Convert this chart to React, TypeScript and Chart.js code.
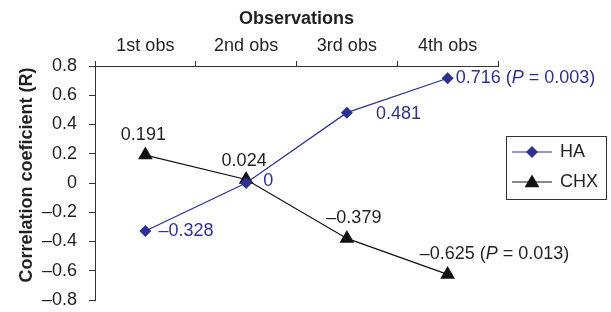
import React, { useEffect, useRef } from "react";
import { Chart, registerables } from "chart.js";

Chart.register(...registerables);

// ---- data ----
const categories = ["1st obs", "2nd obs", "3rd obs", "4th obs"];
const haValues = [-0.328, 0, 0.481, 0.716];
const chxValues = [0.191, 0.024, -0.379, -0.625];
const haLabels = ["–0.328", "0", "0.481", "0.716"];
const chxLabels = ["0.191", "0.024", "–0.379", "–0.625"];
const haPValues = [null, null, null, "0.003"];
const chxPValues = [null, null, null, "0.013"];
const seriesNames = ["HA", "CHX"];
const yMin = -0.8;
const yMax = 0.8;
const yStep = 0.2;
const xTitle = "Observations";
const yTitle = "Correlation coeficient (R)";

// ---- style ----
const HA_COLOR = "#2e3192";
const CHX_COLOR = "#111111";
const TEXT = "#231f20";
const FONT = "'Liberation Sans', Arial, Helvetica, sans-serif";
const LABEL_SIZE = 18;

// label placement: [dx, dy, align]
const haLabelPos: [number, number, string][] = [
  [13, 0, "left"],
  [17, -2, "left"],
  [29, 1, "left"],
  [8, 0, "left"],
];
const chxLabelPos: [number, number, string][] = [
  [-2, -20, "center"],
  [-2, -18, "center"],
  [7, -20, "center"],
  [-28, -20, "left"],
];

function drawRich(ctx: CanvasRenderingContext2D, x: number, y: number, align: string, parts: { t: string; i?: boolean }[], color: string) {
  ctx.save();
  ctx.fillStyle = color;
  ctx.textBaseline = "middle";
  ctx.textAlign = "left";
  const widths = parts.map((p) => {
    ctx.font = `${p.i ? "italic " : ""}${LABEL_SIZE}px ${FONT}`;
    return ctx.measureText(p.t).width;
  });
  const total = widths.reduce((a, b) => a + b, 0);
  let cx = align === "center" ? x - total / 2 : align === "right" ? x - total : x;
  parts.forEach((p, k) => {
    ctx.font = `${p.i ? "italic " : ""}${LABEL_SIZE}px ${FONT}`;
    ctx.fillText(p.t, cx, y);
    cx += widths[k];
  });
  ctx.restore();
}

function labelParts(label: string, p: string | null) {
  if (!p) return [{ t: label }];
  return [{ t: label + " (" }, { t: "P", i: true }, { t: " = " + p + ")" }];
}

const labelsPlugin = {
  id: "valueLabels",
  afterDatasetsDraw(chart: any) {
    const ctx = chart.ctx as CanvasRenderingContext2D;
    const sets = [
      { labels: haLabels, ps: haPValues, pos: haLabelPos, color: HA_COLOR },
      { labels: chxLabels, ps: chxPValues, pos: chxLabelPos, color: TEXT },
    ];
    sets.forEach((s, di) => {
      const meta = chart.getDatasetMeta(di);
      meta.data.forEach((pt: any, i: number) => {
        const [dx, dy, al] = s.pos[i];
        drawRich(ctx, pt.x + dx, pt.y + dy, al, labelParts(s.labels[i], s.ps[i]), s.color);
      });
    });
  },
};

function drawDiamond(ctx: CanvasRenderingContext2D, x: number, y: number, r: number, color: string) {
  ctx.beginPath();
  ctx.moveTo(x, y - r);
  ctx.lineTo(x + r, y);
  ctx.lineTo(x, y + r);
  ctx.lineTo(x - r, y);
  ctx.closePath();
  ctx.fillStyle = color;
  ctx.fill();
}

function drawTriangle(ctx: CanvasRenderingContext2D, x: number, y: number, r: number, color: string) {
  ctx.beginPath();
  ctx.moveTo(x, y - r);
  ctx.lineTo(x + r * Math.cos(Math.PI / 6), y + r / 2);
  ctx.lineTo(x - r * Math.cos(Math.PI / 6), y + r / 2);
  ctx.closePath();
  ctx.fillStyle = color;
  ctx.fill();
}

const legendPlugin = {
  id: "boxLegend",
  afterDraw(chart: any) {
    const ctx = chart.ctx as CanvasRenderingContext2D;
    const a = chart.chartArea;
    // y axis title
    ctx.save();
    ctx.translate(27, (a.top + a.bottom) / 2 - 8);
    ctx.rotate(-Math.PI / 2);
    ctx.fillStyle = TEXT;
    ctx.font = `bold ${LABEL_SIZE}px ${FONT}`;
    ctx.textAlign = "center";
    ctx.textBaseline = "middle";
    ctx.fillText(yTitle, 0, 0);
    ctx.restore();

    const lx = a.right + 8;
    const ly = a.top + 70;
    const w = 100;
    const h = 63;
    ctx.save();
    ctx.strokeStyle = "#333";
    ctx.lineWidth = 1;
    ctx.strokeRect(lx + 0.5, ly + 0.5, w, h);
    const rows = [ly + 16, ly + 46];
    const colors = [HA_COLOR, CHX_COLOR];
    rows.forEach((ry, i) => {
      ctx.beginPath();
      ctx.strokeStyle = colors[i];
      ctx.lineWidth = 1.2;
      ctx.moveTo(lx + 6, ry);
      ctx.lineTo(lx + 46, ry);
      ctx.stroke();
      if (i === 0) drawDiamond(ctx, lx + 26, ry, 6, colors[i]);
      else drawTriangle(ctx, lx + 26, ry + 1, 8.5, colors[i]);
      ctx.fillStyle = TEXT;
      ctx.font = `${LABEL_SIZE}px ${FONT}`;
      ctx.textBaseline = "middle";
      ctx.textAlign = "left";
      ctx.fillText(seriesNames[i], lx + 54, ry);
    });
    ctx.restore();
  },
};

function fmt(v: number) {
  if (Math.abs(v) < 1e-9) return "0";
  const s = Math.abs(v).toFixed(1);
  return v < 0 ? "–" + s : s;
}

export default function App() {
  const ref = useRef<HTMLCanvasElement | null>(null);
  useEffect(() => {
    if (!ref.current) return;
    const chart = new Chart(ref.current, {
      type: "line",
      data: {
        labels: categories,
        datasets: [
          {
            label: seriesNames[0],
            data: haValues,
            borderColor: HA_COLOR,
            backgroundColor: HA_COLOR,
            borderWidth: 1.2,
            pointStyle: "rectRot",
            pointRadius: 6,
            pointBorderWidth: 0,
            tension: 0,
          },
          {
            label: seriesNames[1],
            data: chxValues,
            borderColor: CHX_COLOR,
            backgroundColor: CHX_COLOR,
            borderWidth: 1.2,
            pointStyle: "triangle",
            pointRadius: 8.5,
            pointBorderWidth: 0,
            tension: 0,
          },
        ],
      },
      options: {
        responsive: false,
        animation: false,
        devicePixelRatio: 1,
        layout: { padding: { left: 0, right: 113, top: 0, bottom: 12 } },
        plugins: { legend: { display: false }, tooltip: { enabled: false } },
        scales: {
          x: {
            type: "category",
            position: "top",
            offset: true,
            afterFit: (s: any) => {
              s.height = 66;
              s.paddingLeft = 0;
              s.paddingRight = 0;
            },
            grid: { offset: true, drawOnChartArea: false, drawTicks: true, tickLength: 5, color: "#333" },
            border: { display: true, color: "#333", width: 1 },
            ticks: { color: TEXT, font: { family: FONT, size: LABEL_SIZE }, padding: 4, maxRotation: 0 },
            title: { display: true, text: xTitle, color: TEXT, font: { family: FONT, size: LABEL_SIZE, weight: "bold" }, padding: { top: 8, bottom: 0 } },
          },
          y: {
            min: yMin,
            max: yMax,
            afterFit: (s: any) => {
              s.width = 95;
              s.paddingTop = 0;
              s.paddingBottom = 0;
            },
            grid: { drawOnChartArea: false, drawTicks: true, tickLength: 6, color: "#333" },
            border: { display: true, color: "#333", width: 1 },
            ticks: { stepSize: yStep, color: TEXT, font: { family: FONT, size: LABEL_SIZE }, padding: 12, callback: (v: any) => fmt(Number(v)) },
            title: { display: false, text: yTitle },
          },
        },
      },
      plugins: [labelsPlugin, legendPlugin],
    } as any);
    return () => chart.destroy();
  }, []);
  return (
    <div style={{ position: "absolute", left: 0, top: 0, width: 611, height: 312, background: "#fff" }}>
      <canvas ref={ref} width={611} height={312} style={{ width: 611, height: 312, display: "block" }} />
    </div>
  );
}
